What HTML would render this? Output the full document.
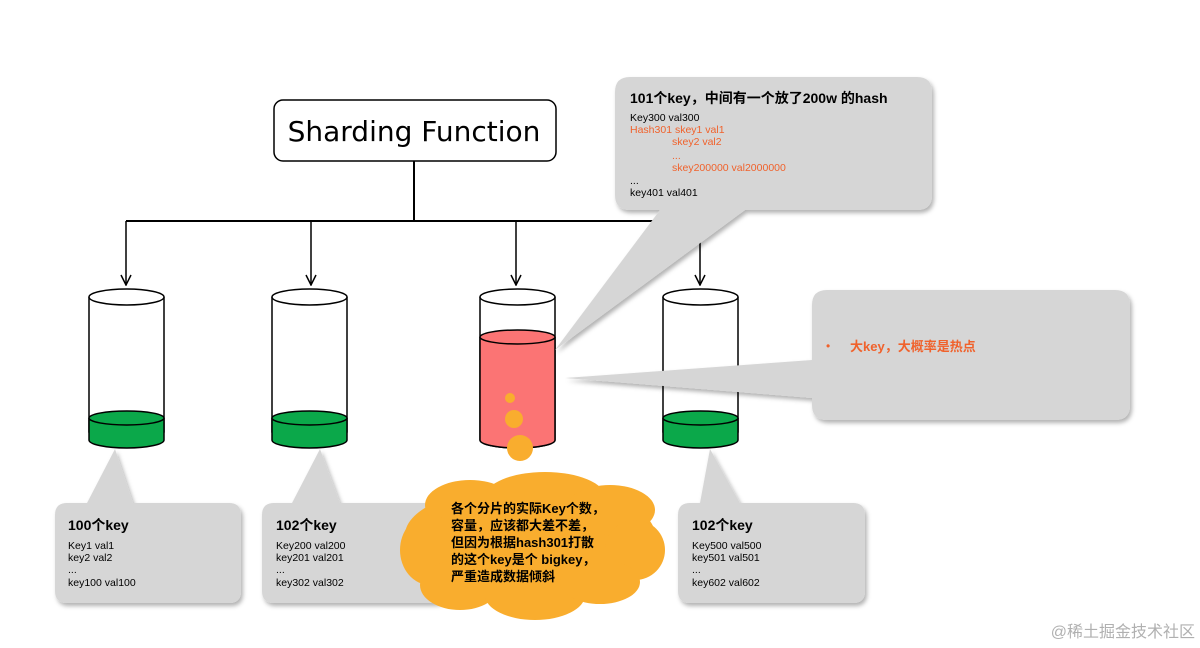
<!DOCTYPE html>
<html><head><meta charset="utf-8"><style>
body{margin:0;background:#fff;}
svg{display:block;font-family:"Liberation Sans","Noto Sans CJK SC",sans-serif;}
</style></head><body>
<svg width="1200" height="648" viewBox="0 0 1200 648" xmlns="http://www.w3.org/2000/svg">
<defs>
<filter id="sh" x="-10%" y="-10%" width="130%" height="130%"><feDropShadow dx="2" dy="3" stdDeviation="2" flood-color="#000" flood-opacity="0.3"/></filter>
<marker id="ar" viewBox="0 0 12 12" refX="11" refY="6" markerWidth="12" markerHeight="12" orient="auto" markerUnits="userSpaceOnUse"><path d="M1,1 L11,6 L1,11" fill="none" stroke="#000" stroke-width="1.5"/></marker>
</defs>
<rect x="274" y="100" width="282" height="61" rx="9" fill="#fff" stroke="#000" stroke-width="1.5"/>
<text x="414" y="141" font-size="28" text-anchor="middle" font-family="DejaVu Sans, sans-serif">Sharding Function</text>
<path d="M414 161 V221 M126 221 H700" stroke="#000" stroke-width="2" fill="none"/>
<g stroke="#000" stroke-width="1.5" marker-end="url(#ar)">
<line x1="126" y1="221" x2="126" y2="285"/><line x1="311" y1="221" x2="311" y2="285"/>
<line x1="516" y1="221" x2="516" y2="285"/><line x1="700" y1="221" x2="700" y2="285"/>
</g>
<g stroke="#000" stroke-width="1.5">
<g>
<path d="M89 297 V432 A37.5 8 0 0 0 164 432 V297" fill="#fff"/>
<path d="M89 418 V440 A37.5 8 0 0 0 164 440 V418" fill="#0ba84a"/>
<ellipse cx="126.5" cy="418" rx="37.5" ry="7" fill="#0ba84a"/>
<ellipse cx="126.5" cy="297" rx="37.5" ry="8" fill="#fff"/>
</g>
<g>
<path d="M272 297 V432 A37.5 8 0 0 0 347 432 V297" fill="#fff"/>
<path d="M272 418 V440 A37.5 8 0 0 0 347 440 V418" fill="#0ba84a"/>
<ellipse cx="309.5" cy="418" rx="37.5" ry="7" fill="#0ba84a"/>
<ellipse cx="309.5" cy="297" rx="37.5" ry="8" fill="#fff"/>
</g>
<g>
<path d="M480 297 V440 A37.5 8 0 0 0 555 440 V297" fill="#fff"/>
<path d="M480 337 V440 A37.5 8 0 0 0 555 440 V337" fill="#fb7474"/>
<ellipse cx="517.5" cy="337" rx="37.5" ry="7" fill="#fb7474"/>
<ellipse cx="517.5" cy="297" rx="37.5" ry="8" fill="#fff"/>
</g>
<g>
<path d="M663 297 V432 A37.5 8 0 0 0 738 432 V297" fill="#fff"/>
<path d="M663 418 V440 A37.5 8 0 0 0 738 440 V418" fill="#0ba84a"/>
<ellipse cx="700.5" cy="418" rx="37.5" ry="7" fill="#0ba84a"/>
<ellipse cx="700.5" cy="297" rx="37.5" ry="8" fill="#fff"/>
</g>
</g>
<g fill="#d6d6d6" filter="url(#sh)">
<path d="M67 503 H87 L115 449 L133 503 H229 Q241 503 241 515 V591 Q241 603 229 603 H67 Q55 603 55 591 V515 Q55 503 67 503Z"/>
<path d="M274 503 H292 L320 449 L340 503 H433 Q445 503 445 515 V591 Q445 603 433 603 H274 Q262 603 262 591 V515 Q262 503 274 503Z"/>
<path d="M690 503 H700 L710 449 L740 503 H853 Q865 503 865 515 V591 Q865 603 853 603 H690 Q678 603 678 591 V515 Q678 503 690 503Z"/>
<path d="M630 77 H917 Q932 77 932 92 V195 Q932 210 917 210 H745 L555 350 L660 210 H630 Q615 210 615 195 V92 Q615 77 630 77Z"/>
<path d="M827 290 H1115 Q1130 290 1130 305 V405 Q1130 420 1115 420 H827 Q812 420 812 405 V398 L565 378 L812 360 V305 Q812 290 827 290Z"/>
</g>
<g font-size="10.5" fill="#000">
<text x="68" y="530" font-size="14" font-weight="bold">100个key</text>
<text x="68" y="549">Key1 val1</text><text x="68" y="561">key2 val2</text><text x="68" y="573">...</text><text x="68" y="586">key100 val100</text>
<text x="276" y="530" font-size="14" font-weight="bold">102个key</text>
<text x="276" y="549">Key200 val200</text><text x="276" y="561">key201 val201</text><text x="276" y="573">...</text><text x="276" y="586">key302 val302</text>
<text x="692" y="530" font-size="14" font-weight="bold">102个key</text>
<text x="692" y="549">Key500 val500</text><text x="692" y="561">key501 val501</text><text x="692" y="573">...</text><text x="692" y="586">key602 val602</text>
<text x="630" y="103" font-size="14" font-weight="bold">101个key，中间有一个放了200w 的hash</text>
<text x="630" y="121">Key300 val300</text>
<g fill="#f0622c"><text x="630" y="133">Hash301 skey1  val1</text><text x="672" y="145">skey2 val2</text><text x="672" y="159">...</text><text x="672" y="171">skey200000 val2000000</text></g>
<text x="630" y="184">...</text><text x="630" y="196">key401 val401</text>
</g>
<text x="826" y="350" font-size="12" fill="#f0622c">•</text>
<text x="850" y="351" font-size="13" font-weight="bold" fill="#f0622c">大key，大概率是热点</text>
<g fill="#f9ad2e">
<circle cx="510" cy="398" r="5"/><circle cx="514" cy="419" r="9"/><circle cx="520" cy="448" r="13"/>
<ellipse cx="530" cy="535" rx="125" ry="50"/>
<ellipse cx="470" cy="505" rx="45" ry="25"/><ellipse cx="545" cy="497" rx="60" ry="25"/><ellipse cx="610" cy="510" rx="45" ry="25"/>
<ellipse cx="430" cy="550" rx="30" ry="35"/><ellipse cx="635" cy="550" rx="30" ry="30"/>
<ellipse cx="460" cy="585" rx="40" ry="25"/><ellipse cx="535" cy="595" rx="50" ry="25"/><ellipse cx="600" cy="582" rx="40" ry="22"/>
</g>
<g font-size="13" font-weight="bold" fill="#000">
<text x="451" y="513">各个分片的实际Key个数，</text>
<text x="451" y="530">容量，应该都大差不差，</text>
<text x="451" y="547">但因为根据hash301打散</text>
<text x="451" y="564">的这个key是个 bigkey，</text>
<text x="451" y="581">严重造成数据倾斜</text>
</g>
<text x="1195" y="637" font-size="16" fill="#b0b0b0" text-anchor="end">@稀土掘金技术社区</text>
</svg>
</body></html>
